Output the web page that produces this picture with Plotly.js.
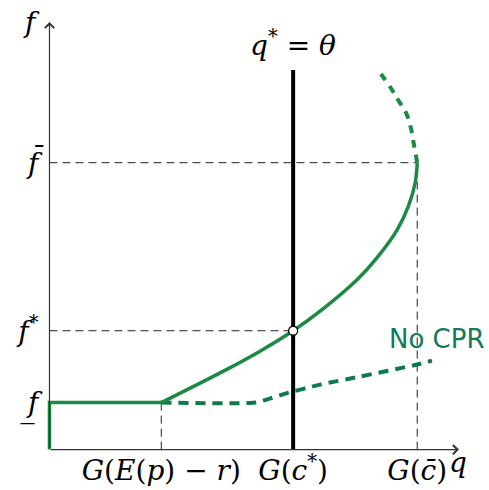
<!DOCTYPE html>
<html>
<head>
<meta charset="utf-8">
<script src="https://cdn.plot.ly/plotly-3.0.1.min.js"></script>
<style>
  html, body { margin: 0; padding: 0; background: #fff; }
  #chart { width: 489px; height: 490px; }
</style>
</head>
<body>
<div id="chart"></div>
<script>
// Tick positions and their labels (quantity q on x, fee f on y)
const qTickVals = [2.73, 5.95, 8.98];
const qTickText = [
  '<i>G</i>(<i>E</i>(<i>p</i>) \u2212 <i>r</i>)',
  '<i>G</i>(<i>c</i><sup>*</sup>)',
  '<i>G</i>(<i>c\u0304</i>)'
];
const fTickVals = [1.10, 2.78, 6.71];
const fTickText = ['<i>f\u0332</i>', '<i>f</i><sup>*</sup>', '<i>f\u0304</i>'];

// Lower floor of the schedule: vertical at q = 0, then flat at f_
const floorQ = [0, 0, 2.73];
const floorF = [0, 1.10, 1.10];

// Rising branch with CPR, from the kink to the turning point at f-bar
const cprQ = [2.73, 3.46, 4.32, 5.12, 5.95, 6.68, 7.51, 8.00, 8.49, 8.76, 8.93, 8.98];
const cprF = [1.10, 1.45, 1.87, 2.29, 2.78, 3.29, 3.97, 4.49, 5.14, 5.68, 6.24, 6.71];

// Backward-bending continuation above f-bar
const bendQ = [8.98, 8.90, 8.83, 8.71, 8.51, 8.32, 8.02];
const bendF = [6.71, 7.13, 7.50, 7.87, 8.18, 8.48, 8.88];

// Schedule without CPR
const noCprQ = [2.73, 5.02, 5.40, 5.76, 6.61, 7.59, 8.98, 9.34];
const noCprF = [1.10, 1.10, 1.20, 1.31, 1.52, 1.71, 1.99, 2.08];

// Equilibrium q* = theta
const qStar = 5.95;
const fStar = 2.78;
const qStarTop = 8.88;

const green = '#1b8a44';
const darkGreen = '#0e7a4c';
const guide = { color: '#222', width: 1, dash: '8px,5px' };

const traces = [
  // dashed guide lines
  { x: [0, qTickVals[2]], y: [fTickVals[2], fTickVals[2]], mode: 'lines', line: guide },
  { x: [0, qStar], y: [fStar, fStar], mode: 'lines', line: guide },
  { x: [qTickVals[0], qTickVals[0]], y: [0, fTickVals[0]], mode: 'lines', line: guide },
  { x: [qTickVals[2], qTickVals[2]], y: [0, fTickVals[2]], mode: 'lines', line: guide },
  // q* = theta
  { x: [qStar, qStar], y: [0, qStarTop], mode: 'lines', line: { color: '#000', width: 4 } },
  // schedules
  { x: noCprQ, y: noCprF, mode: 'lines', line: { color: darkGreen, width: 4, dash: '10px,7px', shape: 'spline', smoothing: 0.6 } },
  { x: floorQ, y: floorF, mode: 'lines', line: { color: green, width: 3.5 } },
  { x: cprQ, y: cprF, mode: 'lines', line: { color: green, width: 3.5, shape: 'spline', smoothing: 1 } },
  { x: bendQ, y: bendF, mode: 'lines', line: { color: green, width: 4, dash: '8px,7px', shape: 'spline', smoothing: 1 } },
  // equilibrium point
  { x: [qStar], y: [fStar], mode: 'markers', cliponaxis: false,
    marker: { size: 9, color: '#fff', line: { color: '#000', width: 1.3 } } }
];

const mathFont = { family: 'DejaVu Serif', size: 28, color: '#000' };

const layout = {
  width: 489,
  height: 490,
  margin: { l: 28.5, r: 30, t: 22, b: 18.6 },
  paper_bgcolor: '#fff',
  plot_bgcolor: '#fff',
  showlegend: false,
  xaxis: {
    range: [-0.5, 10],
    anchor: 'free',
    position: 0.0476,
    showgrid: false,
    zeroline: false,
    showline: false,
    ticks: '',
    tickvals: qTickVals,
    ticktext: qTickText,
    tickfont: mathFont,
    ticklabelstandoff: 1
  },
  yaxis: {
    range: [-0.5, 10],
    anchor: 'free',
    position: 0.0476,
    showgrid: false,
    zeroline: false,
    showline: false,
    ticks: '',
    tickvals: fTickVals,
    ticktext: fTickText,
    tickfont: mathFont,
    ticklabelstandoff: 11
  },
  annotations: [
    // axes with arrowheads
    { x: 10, y: 0, ax: 0, ay: 0, xref: 'x', yref: 'y', axref: 'x', ayref: 'y',
      text: '', showarrow: true, arrowhead: 4, arrowsize: 1.5, arrowwidth: 1.2, arrowcolor: '#333' },
    { x: 0, y: 10, ax: 0, ay: 0, xref: 'x', yref: 'y', axref: 'x', ayref: 'y',
      text: '', showarrow: true, arrowhead: 4, arrowsize: 1.5, arrowwidth: 1.2, arrowcolor: '#333' },
    // axis names
    { x: -0.45, y: 9.98, xref: 'x', yref: 'y', text: '<i>f</i>', showarrow: false,
      font: mathFont, xanchor: 'center', yanchor: 'middle' },
    { x: 9.97, y: -0.30, xref: 'x', yref: 'y', text: '<i>q</i>', showarrow: false,
      font: mathFont, xanchor: 'center', yanchor: 'middle' },
    // q* = theta label
    { x: qStar, y: 9.49, xref: 'x', yref: 'y', text: '<i>q</i><sup>*</sup> = <i>\u03b8</i>',
      showarrow: false, font: mathFont, xanchor: 'center', yanchor: 'middle' },
    // No CPR label
    { x: 9.46, y: 2.59, xref: 'x', yref: 'y', text: 'No CPR', showarrow: false,
      font: { family: 'DejaVu Sans', size: 26, color: '#137a56' },
      xanchor: 'center', yanchor: 'middle' }
  ]
};

Plotly.newPlot('chart', traces, layout, { staticPlot: true, displayModeBar: false });
</script>
</body>
</html>
